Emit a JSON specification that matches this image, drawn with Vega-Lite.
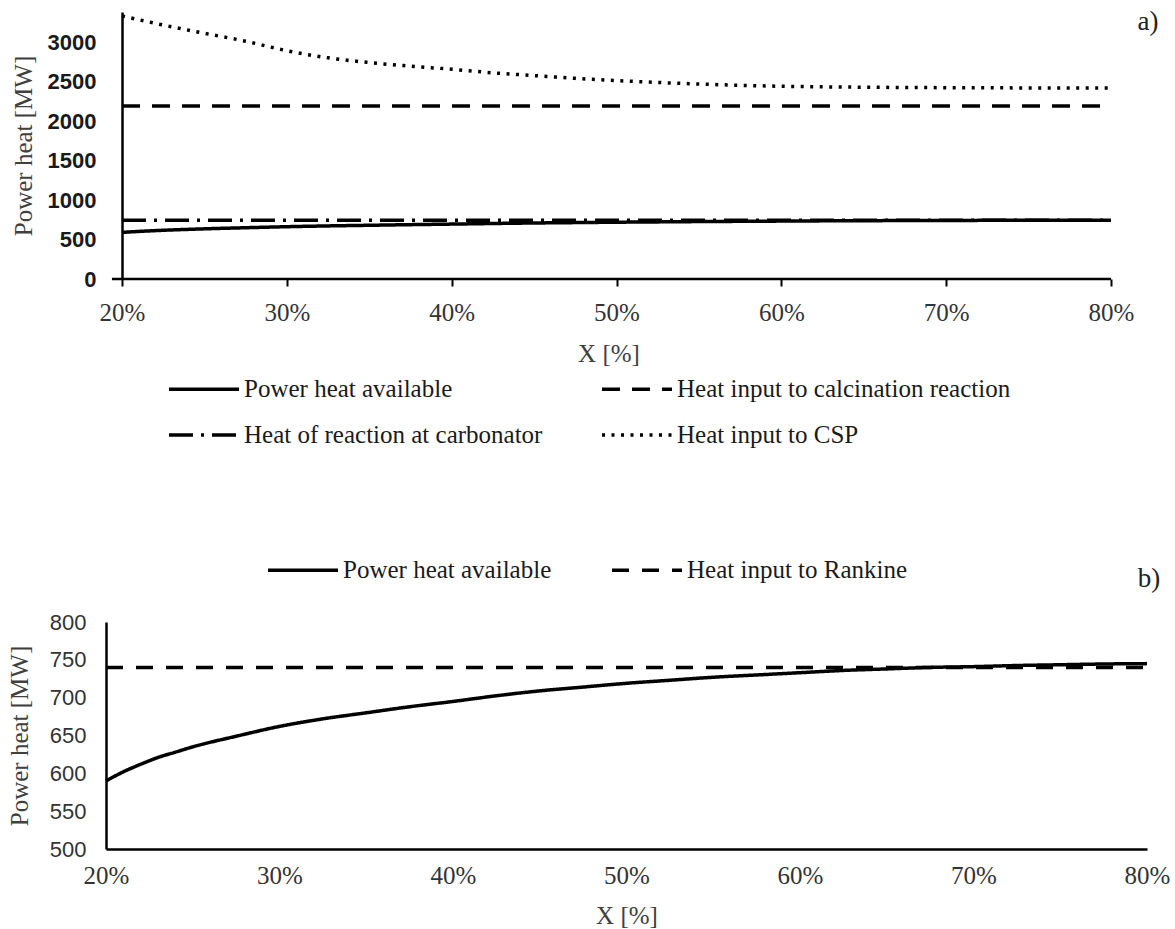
{
  "$schema": "https://vega.github.io/schema/vega-lite/v6.json",
  "padding": {"left": 7, "top": 7, "right": 0, "bottom": 0},
  "config": {
    "view": {"stroke": null},
    "axis": {"grid": false, "domainColor": "black", "domainWidth": 2.5, "labelFont": "Liberation Serif", "labelFontSize": 25, "labelColor": "#333", "titleFont": "Liberation Serif", "titleFontSize": 25, "titleFontWeight": "normal", "titleColor": "#404040", "labelOverlap": false, "labelFlush": false, "labelBound": false},
    "legend": {"labelFont": "Liberation Serif", "labelFontSize": 25, "labelColor": "#1a1a1a", "symbolType": "stroke", "symbolStrokeColor": "black", "symbolStrokeWidth": 3.5, "symbolSize": 4900, "labelOffset": 3, "title": null, "labelLimit": 600, "direction": "horizontal", "clipHeight": 25}
  },
  "datasets": {
    "top": [
      {"x": 0.2, "series": "Power heat available", "y": 590},
      {"x": 0.21, "series": "Power heat available", "y": 602},
      {"x": 0.22, "series": "Power heat available", "y": 612},
      {"x": 0.23, "series": "Power heat available", "y": 621},
      {"x": 0.24, "series": "Power heat available", "y": 628},
      {"x": 0.25, "series": "Power heat available", "y": 635},
      {"x": 0.275, "series": "Power heat available", "y": 649},
      {"x": 0.3, "series": "Power heat available", "y": 662},
      {"x": 0.325, "series": "Power heat available", "y": 672},
      {"x": 0.35, "series": "Power heat available", "y": 680},
      {"x": 0.375, "series": "Power heat available", "y": 688},
      {"x": 0.4, "series": "Power heat available", "y": 695},
      {"x": 0.425, "series": "Power heat available", "y": 702.5},
      {"x": 0.45, "series": "Power heat available", "y": 709},
      {"x": 0.475, "series": "Power heat available", "y": 714},
      {"x": 0.5, "series": "Power heat available", "y": 719},
      {"x": 0.525, "series": "Power heat available", "y": 723},
      {"x": 0.55, "series": "Power heat available", "y": 727},
      {"x": 0.575, "series": "Power heat available", "y": 730},
      {"x": 0.6, "series": "Power heat available", "y": 733},
      {"x": 0.625, "series": "Power heat available", "y": 736},
      {"x": 0.65, "series": "Power heat available", "y": 738},
      {"x": 0.675, "series": "Power heat available", "y": 740},
      {"x": 0.7, "series": "Power heat available", "y": 741},
      {"x": 0.725, "series": "Power heat available", "y": 742.5},
      {"x": 0.75, "series": "Power heat available", "y": 743.5},
      {"x": 0.775, "series": "Power heat available", "y": 744.5},
      {"x": 0.8, "series": "Power heat available", "y": 745},
      {"x": 0.2, "series": "Heat input to calcination reaction", "y": 2190},
      {"x": 0.8, "series": "Heat input to calcination reaction", "y": 2190},
      {"x": 0.2, "series": "Heat of reaction at carbonator", "y": 745},
      {"x": 0.8, "series": "Heat of reaction at carbonator", "y": 745},
      {"x": 0.2, "series": "Heat input to CSP", "y": 3330},
      {"x": 0.225, "series": "Heat input to CSP", "y": 3215},
      {"x": 0.25, "series": "Heat input to CSP", "y": 3110},
      {"x": 0.275, "series": "Heat input to CSP", "y": 3010},
      {"x": 0.3, "series": "Heat input to CSP", "y": 2890},
      {"x": 0.325, "series": "Heat input to CSP", "y": 2800},
      {"x": 0.35, "series": "Heat input to CSP", "y": 2740},
      {"x": 0.375, "series": "Heat input to CSP", "y": 2695},
      {"x": 0.4, "series": "Heat input to CSP", "y": 2655},
      {"x": 0.425, "series": "Heat input to CSP", "y": 2610},
      {"x": 0.45, "series": "Heat input to CSP", "y": 2575},
      {"x": 0.475, "series": "Heat input to CSP", "y": 2540},
      {"x": 0.5, "series": "Heat input to CSP", "y": 2512},
      {"x": 0.525, "series": "Heat input to CSP", "y": 2488},
      {"x": 0.55, "series": "Heat input to CSP", "y": 2468},
      {"x": 0.575, "series": "Heat input to CSP", "y": 2452},
      {"x": 0.6, "series": "Heat input to CSP", "y": 2440},
      {"x": 0.65, "series": "Heat input to CSP", "y": 2428},
      {"x": 0.7, "series": "Heat input to CSP", "y": 2422},
      {"x": 0.75, "series": "Heat input to CSP", "y": 2419},
      {"x": 0.8, "series": "Heat input to CSP", "y": 2417}
    ],
    "bottom": [
      {"x": 0.2, "series": "Power heat available", "y": 590},
      {"x": 0.21, "series": "Power heat available", "y": 602},
      {"x": 0.22, "series": "Power heat available", "y": 612},
      {"x": 0.23, "series": "Power heat available", "y": 621},
      {"x": 0.24, "series": "Power heat available", "y": 628},
      {"x": 0.25, "series": "Power heat available", "y": 635},
      {"x": 0.275, "series": "Power heat available", "y": 649},
      {"x": 0.3, "series": "Power heat available", "y": 662},
      {"x": 0.325, "series": "Power heat available", "y": 672},
      {"x": 0.35, "series": "Power heat available", "y": 680},
      {"x": 0.375, "series": "Power heat available", "y": 688},
      {"x": 0.4, "series": "Power heat available", "y": 695},
      {"x": 0.425, "series": "Power heat available", "y": 702.5},
      {"x": 0.45, "series": "Power heat available", "y": 709},
      {"x": 0.475, "series": "Power heat available", "y": 714},
      {"x": 0.5, "series": "Power heat available", "y": 719},
      {"x": 0.525, "series": "Power heat available", "y": 723},
      {"x": 0.55, "series": "Power heat available", "y": 727},
      {"x": 0.575, "series": "Power heat available", "y": 730},
      {"x": 0.6, "series": "Power heat available", "y": 733},
      {"x": 0.625, "series": "Power heat available", "y": 736},
      {"x": 0.65, "series": "Power heat available", "y": 738},
      {"x": 0.675, "series": "Power heat available", "y": 740},
      {"x": 0.7, "series": "Power heat available", "y": 741},
      {"x": 0.725, "series": "Power heat available", "y": 742.5},
      {"x": 0.75, "series": "Power heat available", "y": 743.5},
      {"x": 0.775, "series": "Power heat available", "y": 744.5},
      {"x": 0.8, "series": "Power heat available", "y": 745},
      {"x": 0.2, "series": "Heat input to Rankine", "y": 740},
      {"x": 0.8, "series": "Heat input to Rankine", "y": 740}
    ]
  },
  "vconcat": [
    {
      "width": 1005,
      "height": 267,
      "layer": [
        {
          "data": {"name": "top"},
          "mark": {"type": "line", "stroke": "black", "strokeWidth": 3.5, "interpolate": "monotone"},
          "encoding": {
            "x": {"field": "x", "type": "quantitative", "scale": {"domain": [0.19029, 0.8], "nice": false, "zero": false},
              "axis": {"values": [0.2, 0.3, 0.4, 0.5, 0.6, 0.7, 0.8], "format": ".0%", "title": "X [%]", "domain": false, "ticks": true, "tickSize": 7, "tickWidth": 2, "tickColor": "black", "labelPadding": 14, "titlePadding": 16, "labelOverlap": false}},
            "y": {"field": "y", "type": "quantitative", "scale": {"domain": [0, 3380], "nice": false},
              "axis": {"values": [0, 500, 1000, 1500, 2000, 2500, 3000], "format": "d", "offset": -16, "title": "Power heat [MW]", "ticks": false, "tickSize": 0, "labelPadding": 26, "labelFont": "Liberation Sans", "labelFontWeight": "bold", "labelFontSize": 22, "labelColor": "#1a1a1a", "titlePadding": 11, "labelOverlap": false}},
            "strokeDash": {"field": "series", "type": "nominal",
              "scale": {"domain": ["Power heat available", "Heat input to calcination reaction", "Heat of reaction at carbonator", "Heat input to CSP"], "range": [[1, 0], [18, 12], [24, 8, 3, 8], [3, 6.5]]},
              "legend": {"orient": "none", "legendX": 61, "legendY": 364.5, "columns": 2, "columnPadding": 57, "rowPadding": 20}}
          }
        },
        {
          "data": {"values": [{}]},
          "mark": {"type": "rule", "stroke": "black", "strokeWidth": 2.5},
          "encoding": {"x": {"datum": 0.1939, "type": "quantitative"}, "x2": {"datum": 0.8}, "y": {"datum": 0, "type": "quantitative"}}
        },
        {
          "data": {"values": [{}]},
          "mark": {"type": "text", "font": "Liberation Serif", "fontSize": 27, "color": "#222", "align": "center", "baseline": "middle"},
          "encoding": {"x": {"datum": 0.8225, "type": "quantitative"}, "y": {"datum": 3257, "type": "quantitative"}, "text": {"value": "a)"}}
        }
      ]
    },
    {
      "width": 1041,
      "height": 227,
      "layer": [
        {
          "data": {"name": "bottom"},
          "mark": {"type": "line", "stroke": "black", "strokeWidth": 3.5, "interpolate": "monotone"},
          "encoding": {
            "x": {"field": "x", "type": "quantitative", "scale": {"domain": [0.2, 0.8], "nice": false, "zero": false},
              "axis": {"values": [0.2, 0.3, 0.4, 0.5, 0.6, 0.7, 0.8], "format": ".0%", "title": "X [%]", "ticks": false, "tickSize": 0, "labelPadding": 14, "titlePadding": 15, "labelOverlap": false}},
            "y": {"field": "y", "type": "quantitative", "scale": {"domain": [500, 800], "nice": false, "zero": false},
              "axis": {"values": [500, 550, 600, 650, 700, 750, 800], "format": "d", "title": "Power heat [MW]", "ticks": false, "tickSize": 0, "labelPadding": 20, "labelFont": "Liberation Sans", "labelFontSize": 22, "labelColor": "#333", "titlePadding": 17, "labelOverlap": false}},
            "strokeDash": {"field": "series", "type": "nominal",
              "scale": {"domain": ["Power heat available", "Heat input to Rankine"], "range": [[1, 0], [17, 13]]},
              "legend": {"orient": "none", "legendX": 160, "legendY": -64.5, "columns": 2, "columnPadding": 58}}
          }
        },
        {
          "data": {"values": [{}]},
          "mark": {"type": "text", "font": "Liberation Serif", "fontSize": 27, "color": "#222", "align": "center", "baseline": "middle"},
          "encoding": {
            "x": {"datum": 0.8012, "type": "quantitative", "axis": {"values": [0.2, 0.3, 0.4, 0.5, 0.6, 0.7, 0.8], "format": ".0%", "title": "X [%]", "ticks": false, "tickSize": 0, "labelPadding": 14, "titlePadding": 15, "labelOverlap": false}},
            "y": {"datum": 857, "type": "quantitative", "axis": {"values": [500, 550, 600, 650, 700, 750, 800], "format": "d", "title": "Power heat [MW]", "ticks": false, "tickSize": 0, "labelPadding": 20, "labelFont": "Liberation Sans", "labelFontSize": 22, "labelColor": "#333", "titlePadding": 17, "labelOverlap": false}},
            "text": {"value": "b)"}}
        }
      ]
    }
  ],
  "spacing": 108,
  "resolve": {"scale": {"x": "independent", "y": "independent", "strokeDash": "independent"}, "legend": {"strokeDash": "independent"}}
}
